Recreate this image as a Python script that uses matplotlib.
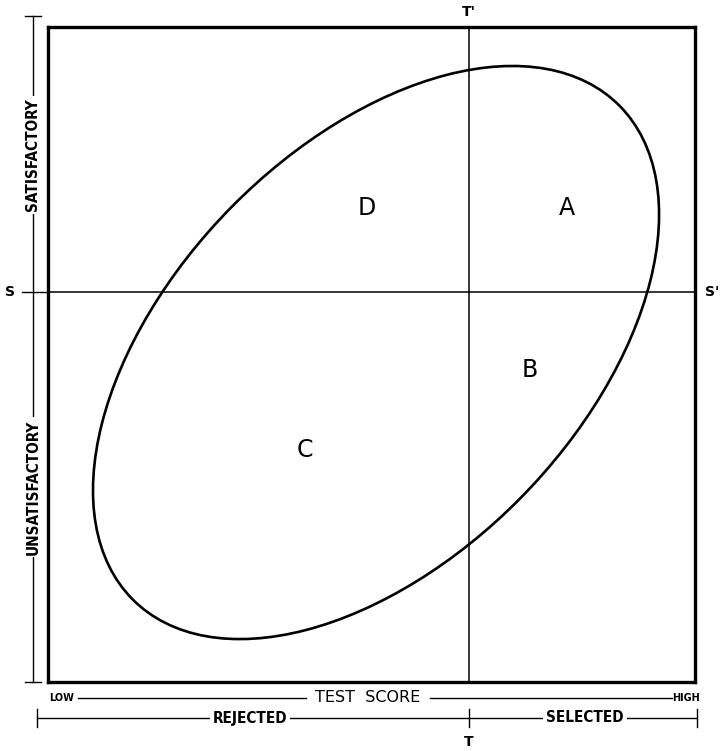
import matplotlib
matplotlib.use("Agg")
import matplotlib.pyplot as plt
from matplotlib.patches import Ellipse
from matplotlib.lines import Line2D

# scatter envelope of test score vs. criterion (0..100 units on both axes)
ellipse_center = [50.7, 50.3]
ellipse_width = 106.5
ellipse_height = 63.0
ellipse_angle = 45.0
test_cut = 65.1        # T-T'
criterion_cut = 59.5   # S-S'
region_labels = ['A', 'B', 'C', 'D']
region_pos = [(80.2, 72.3), (74.5, 47.6), (39.7, 35.4), (49.3, 72.3)]

fig = plt.figure(figsize=(7.21, 7.51), dpi=100)
ax = fig.add_axes([48/721, 69/751, 647/721, 655/751])
ax.set_xlim(0, 100)
ax.set_ylim(0, 100)
ax.set_xticks([])
ax.set_yticks([])
for sp in ax.spines.values():
    sp.set_linewidth(2.4)

ax.add_patch(Ellipse(ellipse_center, ellipse_width, ellipse_height, angle=ellipse_angle,
                     fill=False, lw=1.9, ec='black'))
ax.axvline(test_cut, color='black', lw=1.1)
ax.axhline(criterion_cut, color='black', lw=1.1)
for lab, (x, y) in zip(region_labels, region_pos):
    ax.text(x, y, lab, fontsize=17, ha='center', va='center', family='DejaVu Sans')

# overlay in pixel coords for the dimension lines and labels outside the box
ov = fig.add_axes([0, 0, 1, 1], facecolor='none')
ov.set_xlim(0, 721)
ov.set_ylim(751, 0)
ov.axis('off')

def seg(x0, y0, x1, y1, lw=1.0):
    ov.add_line(Line2D([x0, x1], [y0, y1], color='black', lw=lw))

box = dict(fc='white', ec='none', pad=2)

# left: criterion dimension
seg(33, 16, 33, 682)
seg(25, 16, 41, 16)
seg(25, 682, 41, 682)
seg(22, 292, 48, 292)
ov.text(33, 155, 'SATISFACTORY', rotation=90, ha='center', va='center', fontsize=11,
        fontweight='bold', fontstretch='condensed', bbox=box)
ov.text(33, 487, 'UNSATISFACTORY', rotation=90, ha='center', va='center', fontsize=11,
        fontweight='bold', fontstretch='condensed', bbox=box)
ov.text(10, 292, 'S', ha='center', va='center', fontsize=10, fontweight='bold')
ov.text(712, 292, "S'", ha='center', va='center', fontsize=10, fontweight='bold')
ov.text(469, 12, "T'", ha='center', va='center', fontsize=10, fontweight='bold')
ov.text(469, 742, 'T', ha='center', va='center', fontsize=10, fontweight='bold')

# bottom: test score scale
seg(78, 698, 306, 698)
seg(430, 698, 672, 698)
ov.text(49, 698, 'LOW', ha='left', va='center', fontsize=7, fontweight='bold')
ov.text(700, 698, 'HIGH', ha='right', va='center', fontsize=7, fontweight='bold')
ov.text(368, 698, 'TEST  SCORE', ha='center', va='center', fontsize=11.5)

# bottom: rejected / selected
seg(37, 718, 697, 718)
for xt in (37, 469, 697):
    seg(xt, 709, xt, 727)
ov.text(250, 718, 'REJECTED', ha='center', va='center', fontsize=11, fontweight='bold',
        fontstretch='condensed', bbox=box)
ov.text(585, 718, 'SELECTED', ha='center', va='center', fontsize=11, fontweight='bold',
        fontstretch='condensed', bbox=box)

plt.savefig('out.png', dpi=100)
